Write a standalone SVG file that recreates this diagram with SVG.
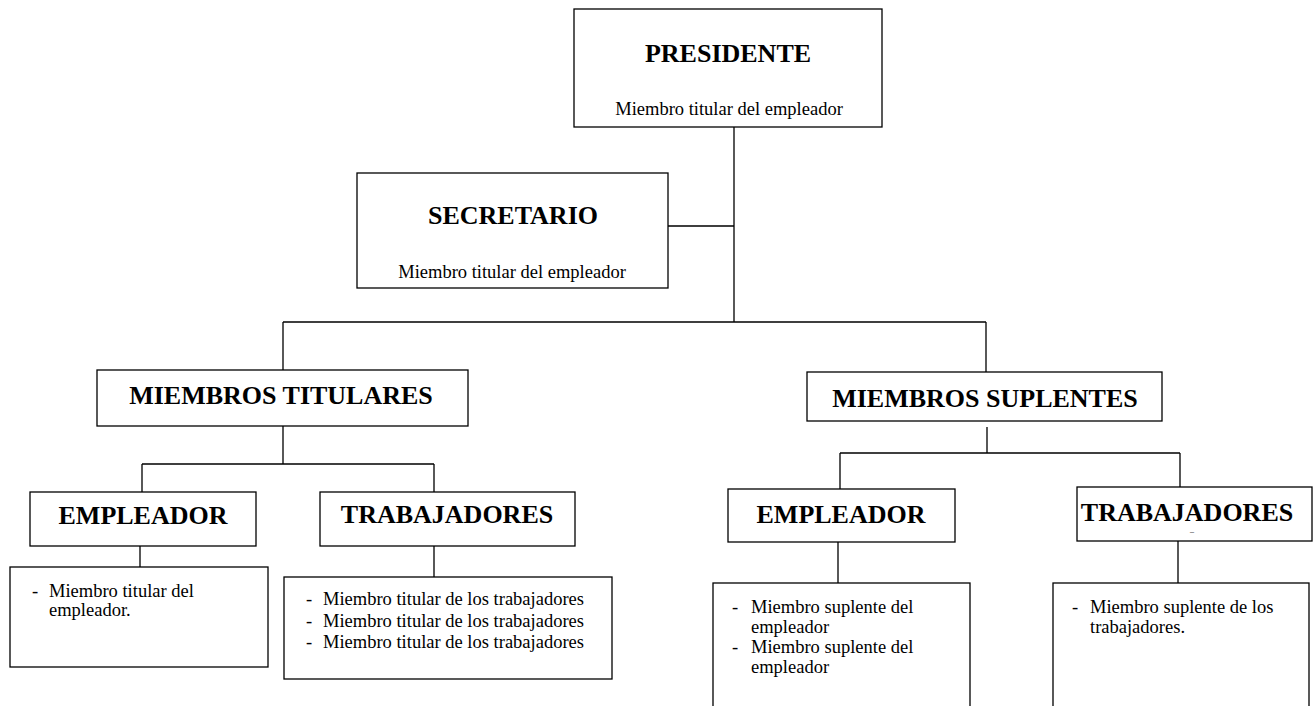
<svg xmlns="http://www.w3.org/2000/svg" width="1316" height="706" viewBox="0 0 1316 706">
<style>
.box{fill:#fff;stroke:#000;stroke-width:1.3}
.ln{fill:none;stroke:#000;stroke-width:1.3}
.t{font-family:"Liberation Serif","Times New Roman",serif;font-weight:bold;font-size:26px;fill:#000;text-anchor:middle}
.s{font-family:"Liberation Serif","Times New Roman",serif;font-size:18.5px;fill:#000}
.c{text-anchor:middle}
</style>
<defs>
<clipPath id="secclip"><rect x="357" y="173" width="311" height="109"/></clipPath>
</defs>
<rect width="1316" height="706" fill="#fff"/>
<g id="connectors">
<path class="ln" d="M734 127V322M668 226H734M283 322H986M283 322V370M986 322V372"/>
<path class="ln" d="M283 426V464M142 464H434M142 464V492M434 464V492M140 546V567M434 546V577"/>
<path class="ln" d="M987 427V453M840 453H1180M840 453V489M1180 453V487M838 542V583M1178 541V583"/>
</g>
<g id="presidente">
<rect class="box" x="574" y="9" width="308" height="118"/>
<text class="t" x="728" y="62">PRESIDENTE</text>
<text class="s c" x="729" y="115">Miembro titular del empleador</text>
</g>
<g id="secretario">
<rect class="box" x="357" y="173" width="311" height="115"/>
<text class="t" x="513" y="224">SECRETARIO</text>
<text class="s c" x="512" y="278" clip-path="url(#secclip)">Miembro titular del empleador</text>
</g>
<g id="miembros-titulares">
<rect class="box" x="97" y="370" width="371" height="56"/>
<text class="t" x="281" y="404">MIEMBROS TITULARES</text>
</g>
<g id="miembros-suplentes">
<rect class="box" x="807" y="372" width="355" height="49"/>
<text class="t" x="985" y="407">MIEMBROS SUPLENTES</text>
</g>
<g id="empleador-titular">
<rect class="box" x="30" y="492" width="226" height="54"/>
<text class="t" x="143" y="524">EMPLEADOR</text>
</g>
<g id="trabajadores-titular">
<rect class="box" x="320" y="492" width="255" height="54"/>
<text class="t" x="447" y="523">TRABAJADORES</text>
</g>
<g id="empleador-suplente">
<rect class="box" x="728" y="489" width="227" height="53"/>
<text class="t" x="841" y="523">EMPLEADOR</text>
</g>
<g id="trabajadores-suplente">
<rect class="box" x="1077" y="487" width="235" height="54"/>
<text class="t" x="1187" y="521">TRABAJADORES</text>
<text x="1192" y="534" font-family="Liberation Serif, serif" font-size="8" text-anchor="middle">–</text>
</g>
<g id="lista-empleador-titular">
<rect class="box" x="10" y="567" width="258" height="100"/>
<text class="s" x="32" y="597">-</text>
<text class="s" x="49" y="597">Miembro titular del</text>
<text class="s" x="49" y="616">empleador.</text>
</g>
<g id="lista-trabajadores-titular">
<rect class="box" x="284" y="577" width="328" height="102"/>
<text class="s" x="306" y="605">-</text>
<text class="s" x="323" y="605">Miembro titular de los trabajadores</text>
<text class="s" x="306" y="627">-</text>
<text class="s" x="323" y="627">Miembro titular de los trabajadores</text>
<text class="s" x="306" y="648">-</text>
<text class="s" x="323" y="648">Miembro titular de los trabajadores</text>
</g>
<g id="lista-empleador-suplente">
<rect class="box" x="713" y="583" width="257" height="140"/>
<text class="s" x="732" y="613">-</text>
<text class="s" x="751" y="613">Miembro suplente del</text>
<text class="s" x="751" y="633">empleador</text>
<text class="s" x="732" y="653">-</text>
<text class="s" x="751" y="653">Miembro suplente del</text>
<text class="s" x="751" y="673">empleador</text>
</g>
<g id="lista-trabajadores-suplente">
<rect class="box" x="1053" y="583" width="256" height="140"/>
<text class="s" x="1072" y="613">-</text>
<text class="s" x="1090" y="613">Miembro suplente de los</text>
<text class="s" x="1090" y="633">trabajadores.</text>
</g>
</svg>
